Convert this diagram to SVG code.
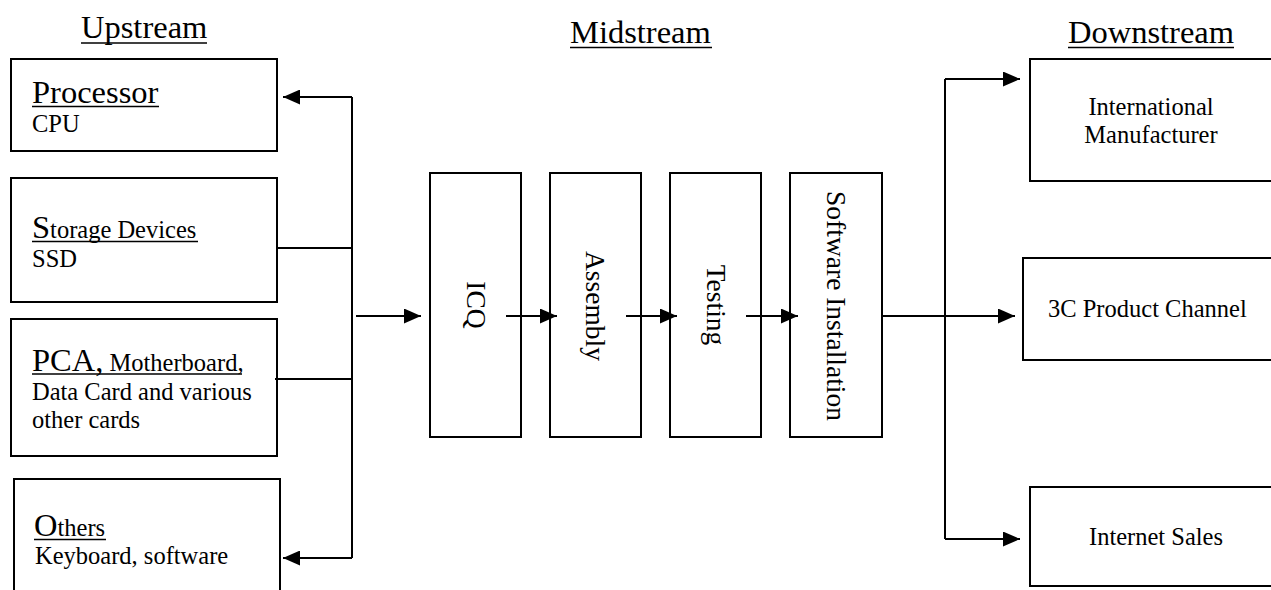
<svg xmlns="http://www.w3.org/2000/svg" width="1271" height="590" viewBox="0 0 1271 590">
<style>
  text { font-family: "Liberation Serif", "Times New Roman", serif; fill: #000; }
  .head { font-size: 32.5px; }
  .big { font-size: 32.5px; }
  .small { font-size: 24.5px; }
  .rot { font-size: 27.5px; text-anchor: middle; }
  .uline { stroke: #000; stroke-width: 1.7; }
  .box { fill: #fff; stroke: #000; stroke-width: 2; }
  .conn { fill: none; stroke: #000; stroke-width: 2; }
</style>
<defs>
  <marker id="arr" markerUnits="userSpaceOnUse" markerWidth="17" markerHeight="15" refX="17" refY="7.5" orient="auto">
    <path d="M0,0 L17,7.5 L0,15 z" fill="#000"/>
  </marker>
</defs>
<rect width="1271" height="590" fill="#fff"/>

<g id="headings">
  <text class="head" x="81" y="38">Upstream</text>
  <line class="uline" x1="81" y1="43" x2="207" y2="43"/>
  <text class="head" x="570" y="43">Midstream</text>
  <line class="uline" x1="570" y1="47.5" x2="712" y2="47.5"/>
  <text class="head" x="1068" y="43">Downstream</text>
  <line class="uline" x1="1068" y1="47.5" x2="1234" y2="47.5"/>
</g>

<g id="processor">
  <rect class="box" x="11" y="59" width="266" height="92"/>
  <text class="big" x="32" y="103">Processor</text>
  <line class="uline" x1="32" y1="106.5" x2="159" y2="106.5"/>
  <text class="small" x="32" y="132">CPU</text>
</g>
<g id="storage">
  <rect class="box" x="11" y="178" width="266" height="124"/>
  <text x="32" y="238"><tspan class="big">S</tspan><tspan class="small">torage Devices</tspan></text>
  <line class="uline" x1="32" y1="241.5" x2="198" y2="241.5"/>
  <text class="small" x="32" y="267">SSD</text>
</g>
<g id="pca">
  <rect class="box" x="11" y="319" width="266" height="137"/>
  <text x="32" y="371"><tspan class="big">PCA,</tspan><tspan class="small"> Motherboard,</tspan></text>
  <line class="uline" x1="32" y1="374" x2="242" y2="374"/>
  <text class="small" x="32" y="400">Data Card and various</text>
  <text class="small" x="32" y="428">other cards</text>
</g>
<g id="others">
  <path class="box" d="M14,592 L14,479 L280,479 L280,592"/>
  <text x="34" y="536"><tspan class="big">O</tspan><tspan class="small">thers</tspan></text>
  <line class="uline" x1="34" y1="539.5" x2="106" y2="539.5"/>
  <text class="small" x="35" y="564">Keyboard, software</text>
</g>

<g id="icq">
  <rect class="box" x="430" y="173" width="91" height="264"/>
  <text class="rot" transform="translate(466.5,305) rotate(90)">ICQ</text>
</g>
<g id="assembly">
  <rect class="box" x="550" y="173" width="91" height="264"/>
  <text class="rot" transform="translate(585.5,306) rotate(90)">Assembly</text>
</g>
<g id="testing">
  <rect class="box" x="670" y="173" width="91" height="264"/>
  <text class="rot" transform="translate(707,305) rotate(90)">Testing</text>
</g>
<g id="software">
  <rect class="box" x="790" y="173" width="92" height="264"/>
  <text class="rot" transform="translate(827,306) rotate(90)">Software Installation</text>
</g>

<g id="intl">
  <path class="box" d="M1273,59 L1030,59 L1030,181 L1273,181"/>
  <text class="small" x="1151" y="115" text-anchor="middle">International</text>
  <text class="small" x="1151" y="143" text-anchor="middle">Manufacturer</text>
</g>
<g id="channel">
  <path class="box" d="M1273,258 L1023,258 L1023,360 L1273,360"/>
  <text class="small" x="1048" y="317">3C Product Channel</text>
</g>
<g id="internet">
  <path class="box" d="M1273,487 L1030,487 L1030,586 L1273,586"/>
  <text class="small" x="1156" y="545" text-anchor="middle">Internet Sales</text>
</g>

<g id="connectors">
  <line class="conn" x1="352" y1="97" x2="352" y2="558"/>
  <line class="conn" x1="352" y1="97" x2="283" y2="97" marker-end="url(#arr)"/>
  <line class="conn" x1="352" y1="558" x2="283" y2="558" marker-end="url(#arr)"/>
  <line class="conn" x1="277" y1="248" x2="352" y2="248"/>
  <line class="conn" x1="275" y1="379" x2="352" y2="379"/>
  <line class="conn" x1="356" y1="316" x2="421" y2="316" marker-end="url(#arr)"/>
  <line class="conn" x1="506" y1="316" x2="557" y2="316" marker-end="url(#arr)"/>
  <line class="conn" x1="626" y1="316" x2="677" y2="316" marker-end="url(#arr)"/>
  <line class="conn" x1="746" y1="316" x2="798" y2="316" marker-end="url(#arr)"/>
  <line class="conn" x1="882" y1="316" x2="1015" y2="316" marker-end="url(#arr)"/>
  <line class="conn" x1="945" y1="79" x2="945" y2="539"/>
  <line class="conn" x1="945" y1="79" x2="1020" y2="79" marker-end="url(#arr)"/>
  <line class="conn" x1="945" y1="539" x2="1020" y2="539" marker-end="url(#arr)"/>
</g>
</svg>
